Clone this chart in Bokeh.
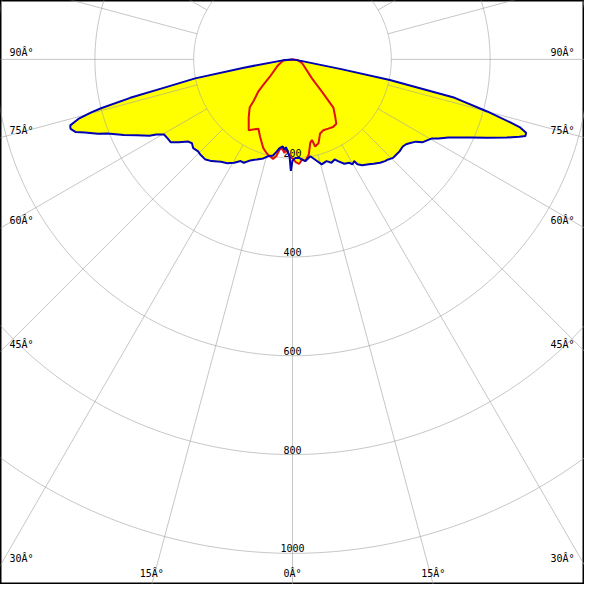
import numpy as np
from bokeh.plotting import figure
from bokeh.core.properties import value
from bokeh.embed import file_html
from bokeh.resources import INLINE

# ---- Data (angle in degrees from nadir, luminous intensity in cd) ----
# Blue plane, left half (increasing angle)
blue_left_angle = [0.0, 0.85, 1.73, 3.03, 4.25, 5.11, 6.38, 8.30, 10.09, 11.44, 14.10, 16.42,
                   19.65, 22.65, 25.21, 27.02, 29.47, 32.10, 34.87, 38.56, 41.28, 44.25, 45.74,
                   48.20, 50.16, 51.70, 53.93, 55.72, 57.67, 59.67, 61.13, 61.90, 64.01, 65.82,
                   68.15, 69.07, 70.58, 71.53, 72.59, 73.07, 73.46, 74.45, 75.23, 75.68, 76.67,
                   77.52, 78.97, 80.35, 84.3, 90.0]
blue_left_cd = [205, 225.6, 196.2, 186.5, 178.2, 183.6, 177.4, 181.6, 191.1, 198.6, 202.2, 209.1,
                215.1, 221.6, 231.3, 231.1, 240.3, 248.4, 252.6, 263.3, 268.8, 268.2, 266.8,
                269.6, 265.1, 268.6, 285.2, 298.1, 299.2, 301.3, 315.0, 328.4, 350.7, 374.3,
                403.3, 421.9, 445.6, 463.3, 470.8, 470.2, 469.3, 450.0, 421.2, 400.0, 337.5,
                269.0, 200.7, 99.9, 19.8, 0.0]
# Blue plane, right half (increasing angle)
blue_right_angle = [1.70, 3.79, 5.55, 7.25, 10.42, 12.61, 15.55, 18.51, 20.64, 22.84, 24.08,
                    26.43, 28.77, 29.78, 31.21, 31.75, 33.38, 36.00, 37.85, 40.28, 42.28, 43.72,
                    45.59, 47.50, 49.33, 51.69, 53.24, 54.31, 56.30, 57.41, 60.46, 61.57, 63.38,
                    66.34, 68.08, 69.97, 71.16, 71.77, 72.54, 73.41, 73.89, 75.02, 76.67, 78.03,
                    78.69, 79.8, 90.0]
blue_right_cd = [199.5, 199.9, 203.9, 207.5, 199.3, 207.6, 220.5, 217.1, 223.6, 219.8, 225.5,
                 235.9, 238.7, 244.7, 240.7, 249.8, 256.7, 262.5, 267.5, 274.3, 278.3, 280.3,
                 284.9, 285.2, 285.7, 284.5, 287.1, 291.2, 300.1, 311.7, 324.5, 336.1, 352.7,
                 393.7, 424.8, 461.4, 485.1, 496.4, 495.7, 479.6, 458.0, 407.9, 337.5, 201.4,
                 100.5, 20.0, 0.0]
# Red plane, left half
red_left_angle = [0.0, 0.96, 2.35, 4.13, 4.93, 6.15, 7.31, 8.16, 9.53, 11.07, 13.18, 15.51,
                  18.21, 22.73, 26.17, 31.72, 37.10, 41.63, 43.06, 46.86, 48.87, 52.6, 67.5,
                  81.5, 84.3, 90.0]
red_left_cd = [200, 199.4, 192.3, 183.3, 190.3, 183.9, 181.2, 184.7, 198.8, 205.2, 201.3, 196.7,
               189.2, 169.8, 156.3, 168.6, 147.0, 130.5, 115.4, 94.5, 78.5, 57.8, 32.0,
               19.9, 9.9, 0.0]
# Red plane, right half
red_right_angle = [1.79, 3.57, 5.56, 7.25, 9.69, 12.08, 13.58, 14.59, 17.21, 20.38, 23.53,
                   27.27, 30.96, 34.21, 36.48, 40.31, 42.45, 45.72, 68.2, 84.3, 90.0]
red_right_cd = [208, 212.2, 203.5, 207.5, 195.5, 172.3, 167.8, 182.2, 177.8, 160.2, 156.4,
                157.8, 159.7, 157.7, 145.8, 127.9, 87.6, 55.0, 21.2, 9.9, 0.0]

ring_values = [200, 400, 600, 800, 1000]
ring_labels = ["200", "400", "600", "800", "1000"]
side_label_angles = [30, 45, 60, 75, 90]
bottom_label_angles = [0, 15]
spoke_step_deg = 15

DEG = "\u00c2\u00b0"


def polar_xy(angles, cds, side):
    th = np.radians(np.asarray(angles, dtype=float))
    r = np.asarray(cds, dtype=float)
    return side * r * np.sin(th), -r * np.cos(th)


def closed_shape(la, lc, ra, rc):
    lx, ly = polar_xy(la, lc, -1)
    rx, ry = polar_xy(ra, rc, 1)
    return np.concatenate([lx[::-1], rx]), np.concatenate([ly[::-1], ry])


bx, by = closed_shape(blue_left_angle, blue_left_cd, blue_right_angle, blue_right_cd)
rx, ry = closed_shape(red_left_angle, red_left_cd, red_right_angle, red_right_cd)

# view window (in cd units)
PX_PER_CD = 0.5075
XH = 300 / PX_PER_CD
Y_TOP = 60.5 / PX_PER_CD
Y_BOT = -539.5 / PX_PER_CD

p = figure(width=584, height=584, x_range=(-XH, XH), y_range=(Y_BOT, Y_TOP),
           output_backend="svg", toolbar_location=None, min_border=0,
           background_fill_color="white", border_fill_color="white")
p.axis.visible = False
p.grid.visible = False
p.outline_line_color = "black"
p.outline_line_width = 2

# fills
p.patch(bx, by, fill_color="#ffff00", line_color=None)
p.patch(rx, ry, fill_color="#ffff00", line_color=None)

# grid: rings
t = np.linspace(0, 2 * np.pi, 721)
p.multi_line([list(r * np.sin(t)) for r in ring_values],
             [list(r * np.cos(t)) for r in ring_values],
             line_color="#a0a0a0", line_alpha=0.6, line_width=1)
# grid: spokes
spk = np.radians(np.arange(-180, 180, spoke_step_deg))
r0, r1 = ring_values[0], 1500
p.multi_line([[r0 * np.sin(a), r1 * np.sin(a)] for a in spk],
             [[-r0 * np.cos(a), -r1 * np.cos(a)] for a in spk],
             line_color="#a0a0a0", line_alpha=0.6, line_width=1)

font = value("DejaVu Sans Mono")
# ring labels
p.text(x=[0] * len(ring_values), y=[-v for v in ring_values], text=ring_labels,
       text_font=font, text_font_size="10px", text_color="black",
       text_align="center", text_baseline="bottom", y_offset=-1)

# angle labels on the sides
sa = np.radians(side_label_angles)
sy = [-XH * np.cos(a) / np.sin(a) for a in sa]
stext = [f"{a}{DEG}" for a in side_label_angles]
p.text(x=[-XH] * len(sy), y=sy, text=stext, text_font=font, text_font_size="10px",
       text_color="black", text_align="left", text_baseline="middle",
       x_offset=9, y_offset=-7)
p.text(x=[XH] * len(sy), y=sy, text=stext, text_font=font, text_font_size="10px",
       text_color="black", text_align="right", text_baseline="middle",
       x_offset=-10, y_offset=-7)
# angle labels on the bottom
bx_l, bt = [], []
for a in bottom_label_angles:
    xx = -Y_BOT * np.tan(np.radians(a))
    if a == 0:
        bx_l.append(0.0); bt.append(f"{a}{DEG}")
    else:
        bx_l += [-xx, xx]; bt += [f"{a}{DEG}", f"{a}{DEG}"]
p.text(x=bx_l, y=[Y_BOT] * len(bx_l), text=bt, text_font=font, text_font_size="10px",
       text_color="black", text_align="center", text_baseline="middle", y_offset=-11)

# curves
p.line(rx, ry, line_color="#e01010", line_width=2)
p.line(bx, by, line_color="#0000b4", line_width=2)

open("out.html", "w").write(file_html(p, INLINE))
